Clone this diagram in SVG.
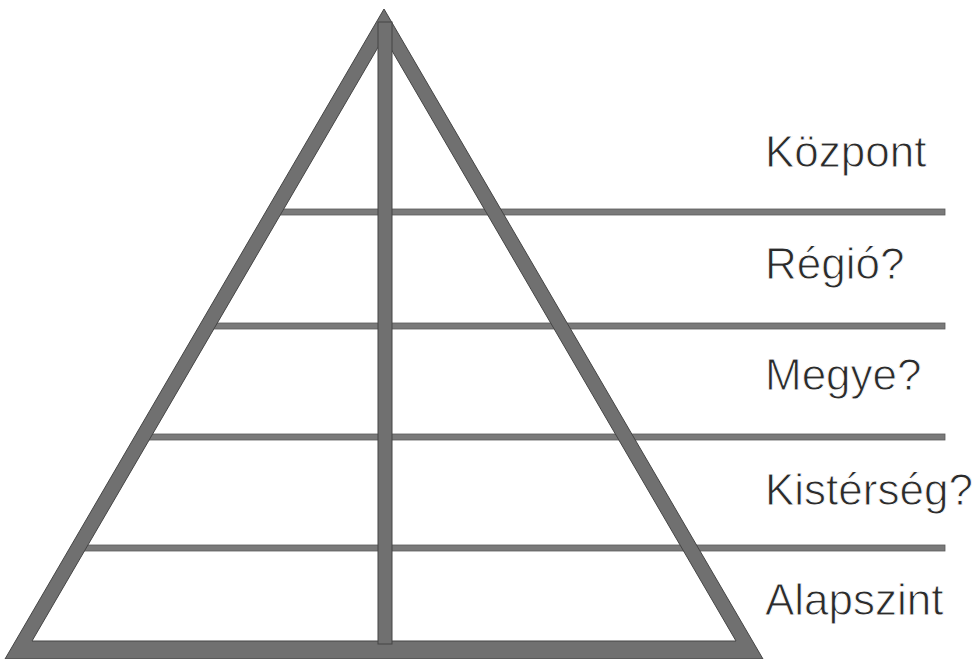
<svg xmlns="http://www.w3.org/2000/svg" width="974" height="659" viewBox="0 0 974 659">
  <style>
    .bar { fill: #707070; stroke: #454545; stroke-width: 1; }
    .lvl { fill: #7a7a7a; stroke: #5a5a5a; stroke-width: 0.8; }
    .lbl { font-family: "Liberation Sans", Arial, sans-serif; font-size: 44px; fill: #2b2b2b; stroke: #ffffff; stroke-width: 0.9; }
  </style>
  <rect x="0" y="0" width="974" height="659" fill="#ffffff"/>
  <g id="levels">
    <rect class="lvl" x="270" y="209" width="675" height="6"/>
    <rect class="lvl" x="204" y="323" width="741" height="6"/>
    <rect class="lvl" x="139" y="434" width="806" height="6"/>
    <rect class="lvl" x="74" y="545" width="871" height="6"/>
  </g>
  <g id="pyramid">
    <path class="bar" fill-rule="evenodd" d="M384,9 L763,659 L5,659 Z M384,37 L32,641 L736,641 Z"/>
    <rect class="bar" x="378" y="22" width="14" height="622"/>
  </g>
  <g id="label-kozpont"><text class="lbl" x="765" y="167">Központ</text></g>
  <g id="label-regio"><text class="lbl" x="765" y="279">Régió?</text></g>
  <g id="label-megye"><text class="lbl" x="765" y="390">Megye?</text></g>
  <g id="label-kisterseg"><text class="lbl" x="765" y="505">Kistérség?</text></g>
  <g id="label-alapszint"><text class="lbl" x="765" y="615">Alapszint</text></g>
</svg>
